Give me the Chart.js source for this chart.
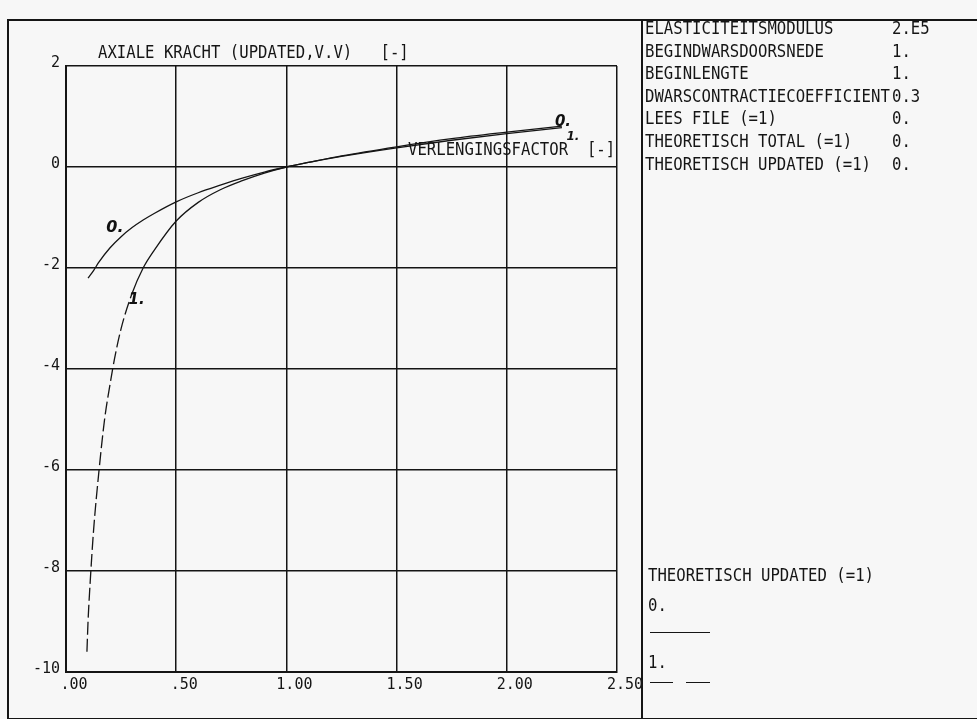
<!DOCTYPE html>
<html><head><meta charset="utf-8">
<script src="https://cdn.jsdelivr.net/npm/chart.js@4.4.1/dist/chart.umd.min.js"></script>
<style>
html,body{margin:0;padding:0;background:#f7f7f7;}
#wrap{position:relative;width:977px;height:719px;overflow:hidden;background:#f7f7f7;}
#c{position:absolute;left:0;top:0;width:977px;height:719px;}
.t{position:absolute;font-family:'DejaVu Sans Mono',monospace;font-size:17px;line-height:17px;white-space:pre;color:#151515;transform-origin:0 50%;transform:scaleX(0.92);}
.frame{position:absolute;left:7px;top:19px;width:990px;height:697px;border-left:2px solid #151515;border-top:2px solid #151515;border-bottom:2px solid #151515;}
.vdiv{position:absolute;left:641px;top:19px;width:2px;height:699px;background:#151515;}
.leg{position:absolute;height:0;border-top:1.6px solid #151515;}
</style></head><body>
<div id="wrap">
<div class="frame"></div>
<div class="vdiv"></div>
<canvas id="c" width="977" height="719"></canvas>
<div id="overlay"></div>
</div>
<script>
// ---- data ----
const lambda0 = [0.10,0.125,0.15,0.2,0.25,0.3,0.35,0.4,0.5,0.6,0.7,0.8,0.9,1.0,1.1,1.25,1.5,1.75,2.0,2.25];
const force0  = [-2.2,-2.05,-1.88,-1.6,-1.38,-1.2,-1.05,-0.92,-0.69,-0.51,-0.36,-0.22,-0.1,0.0,0.09,0.22,0.4,0.56,0.69,0.81];
const lambda1 = [0.095,0.1,0.11,0.125,0.15,0.175,0.2,0.22,0.25,0.3,0.35,0.4,0.5,0.6,0.7,0.8,0.9,1.0,1.1,1.25,1.5,1.75,2.0,2.25];
const force1  = [-9.6,-9.0,-8.2,-7.2,-6.0,-5.0,-4.3,-3.8,-3.2,-2.5,-2.0,-1.65,-1.07,-0.7,-0.45,-0.27,-0.12,0.0,0.09,0.21,0.38,0.53,0.66,0.78];
const xTickValues = [0,0.5,1,1.5,2,2.5];
const xTickLabels = [".00",".50","1.00","1.50","2.00","2.50"];
const yTickValues = [-10,-8,-6,-4,-2,0,2];
const yTickLabels = ["-10","-8","-6","-4","-2","0","2"];
const curveLabels = [
  {text:"0.", x:0.222, y:-1.21, size:16},
  {text:"1.", x:0.32,  y:-2.63, size:15},
  {text:"0.", x:2.255, y:0.89,  size:15},
  {text:"1.", x:2.30,  y:0.60,  size:12}
];
const titleText = "AXIALE KRACHT (UPDATED,V.V)   [-]";
const xAxisText = "VERLENGINGSFACTOR  [-]";
const paramNames  = ["ELASTICITEITSMODULUS","BEGINDWARSDOORSNEDE","BEGINLENGTE","DWARSCONTRACTIECOEFFICIENT","LEES FILE (=1)","THEORETISCH TOTAL (=1)","THEORETISCH UPDATED (=1)"];
const paramValues = ["2.E5","1.","1.","0.3","0.","0.","0."];
const legendTitle = "THEORETISCH UPDATED (=1)";
const legendNames = ["0.","1."];

// ---- overlay text ----
const ov = document.getElementById('overlay');
function addText(txt, left, centerY){
  const d = document.createElement('div');
  d.className = 't'; d.textContent = txt;
  d.style.left = left + 'px'; d.style.top = (centerY - 8) + 'px';
  ov.appendChild(d); return d;
}
addText(titleText, 98, 52);
addText(xAxisText, 408, 149);
paramNames.forEach((n,i)=>{
  const cy = 28 + i*22.6;
  addText(n, 645, cy);
  addText(paramValues[i], 892, cy);
});
addText(legendTitle, 648, 575);
addText(legendNames[0], 648, 605);
addText(legendNames[1], 648, 662);
function addLine(left, top, width){
  const d = document.createElement('div'); d.className='leg';
  d.style.left=left+'px'; d.style.top=top+'px'; d.style.width=width+'px'; ov.appendChild(d);
}
addLine(650, 632, 60);
addLine(650, 682, 23);
addLine(686, 682, 24);

// ---- chart ----
const labelPlugin = {
  id:'curveLabels',
  afterDatasetsDraw(chart){
    const {ctx, scales:{x,y}} = chart;
    ctx.save();
    ctx.fillStyle = '#111';
    ctx.textAlign = 'center'; ctx.textBaseline = 'middle';
    curveLabels.forEach(l=>{
      ctx.font = 'italic bold ' + l.size + 'px "DejaVu Sans"';
      ctx.fillText(l.text, x.getPixelForValue(l.x), y.getPixelForValue(l.y));
    });
    ctx.restore();
  }
};

const gridOpts = {color:'#151515', lineWidth:1.5, drawTicks:false};
const tickFont = {family:'"DejaVu Sans Mono", monospace', size:15};

new Chart(document.getElementById('c'), {
  type:'line',
  data:{
    datasets:[
      {label:'0.', data:lambda0.map((v,i)=>({x:v,y:force0[i]})), borderColor:'#151515', borderWidth:1.3, pointRadius:0, cubicInterpolationMode:'monotone', fill:false},
      {label:'1.', data:lambda1.map((v,i)=>({x:v,y:force1[i]})), borderColor:'#151515', borderWidth:1.3, pointRadius:0, cubicInterpolationMode:'monotone', fill:false,
       segment:{borderDash: c => (c.p0.parsed.y < -2.5 ? [13,4] : undefined)}}
    ]
  },
  options:{
    responsive:false, animation:false, devicePixelRatio:1,
    layout:{padding:{left:0,right:360,top:66,bottom:17}},
    plugins:{legend:{display:false}, title:{display:false}, tooltip:{enabled:false}},
    scales:{
      x:{type:'linear', min:0, max:2.5,
         afterBuildTicks: s => { s.ticks = xTickValues.map(v=>({value:v})); },
         afterFit: s => { s.height = 30; },
         grid:gridOpts, border:{display:true,color:'#151515',width:2},
         ticks:{font:tickFont, color:'#151515', padding:4, labelOffset:8, maxRotation:0, autoSkip:false,
                callback:(v)=>{const i=xTickValues.indexOf(v); return i>=0?xTickLabels[i]:'';}}},
      y:{type:'linear', min:-10, max:2,
         afterBuildTicks: s => { s.ticks = yTickValues.map(v=>({value:v})); },
         afterFit: s => { s.width = 66; },
         grid:gridOpts, border:{display:true,color:'#151515',width:2},
         ticks:{font:tickFont, color:'#151515', padding:6, labelOffset:-3, autoSkip:false,
                callback:(v)=>{const i=yTickValues.indexOf(v); return i>=0?yTickLabels[i]:'';}}}
    }
  },
  plugins:[labelPlugin]
});
</script>
</body></html>
